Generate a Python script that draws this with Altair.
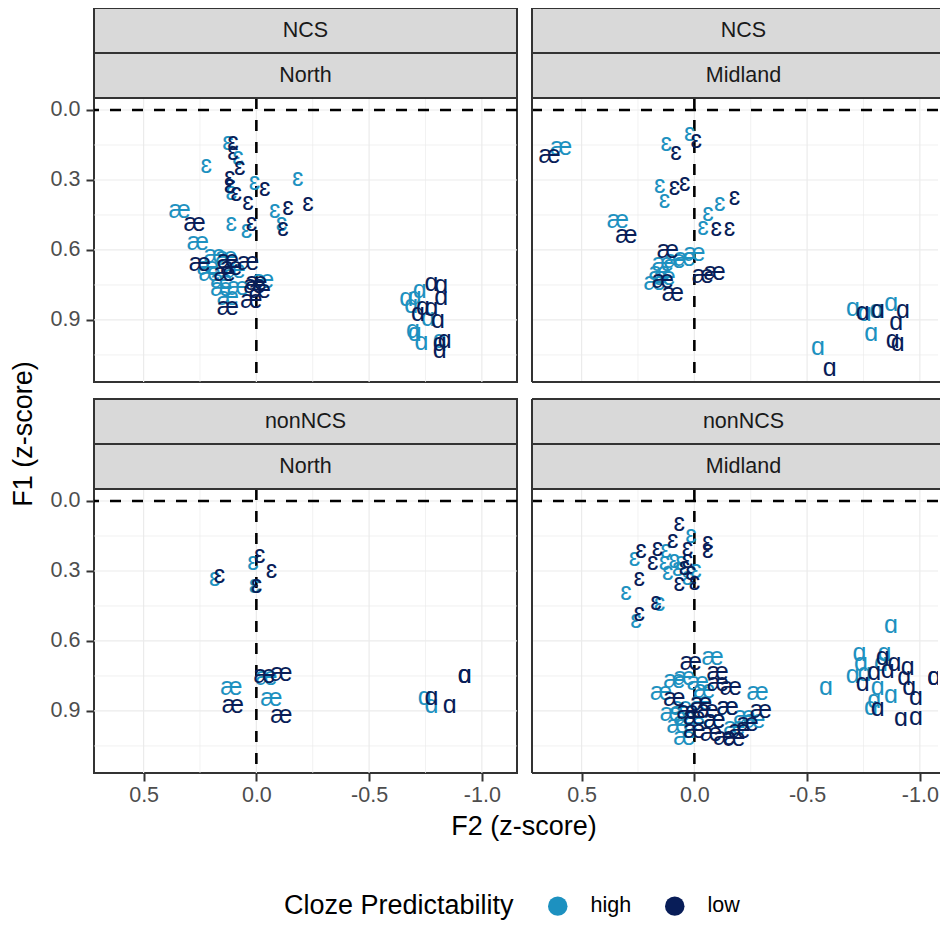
import altair as alt
import pandas as pd

FONT = "Liberation Sans"
HIGH_COLOR = "#1D91C0"
LOW_COLOR = "#081D58"
STRIP_FILL = "#D9D9D9"
BORDER = "#333333"

CLOZE_LEVELS = ["high", "low"]

X_MAJOR = [0.5, 0.0, -0.5, -1.0]
X_MINOR = [0.25, -0.25, -0.75]
Y_MAJOR = [0.0, 0.3, 0.6, 0.9]
Y_MINOR = [0.15, 0.45, 0.75, 1.05]
X_LEFT = 0.72
PX_PER_UNIT = 225.5
Y_DOMAIN = [-0.0514, 1.166]

# ---------------- NCS / North ----------------
NCS_NORTH_HIGH_VOWEL = ["ɛ"] * 11 + ["æ"] * 12 + ["ɑ"] * 9
NCS_NORTH_HIGH_F2 = [0.126, 0.082, 0.222, 0.008, -0.184, 0.118, 0.111, -0.081, 0.111, 0.044, -0.111,
                     0.340, 0.259, 0.185, 0.215, 0.207, 0.155, 0.155, 0.082, 0.126, -0.030, 0.096, 0.133,
                     -0.665, -0.702, -0.724, -0.687, -0.761, -0.694, -0.702, -0.732, -0.813]
NCS_NORTH_HIGH_F1 = [0.136, 0.200, 0.236, 0.307, 0.293, 0.321, 0.350, 0.429, 0.486, 0.514, 0.486,
                     0.429, 0.564, 0.621, 0.671, 0.700, 0.729, 0.764, 0.757, 0.800, 0.729, 0.686, 0.629,
                     0.807, 0.800, 0.771, 0.836, 0.893, 0.943, 0.957, 0.993, 0.986]
NCS_NORTH_LOW_VOWEL = ["ɛ"] * 12 + ["æ"] * 11 + ["ɑ"] * 10
NCS_NORTH_LOW_F2 = [0.104, 0.104, 0.074, 0.118, 0.118, 0.089, 0.037, -0.037, -0.140, -0.229, 0.022, -0.118,
                    0.274, 0.251, 0.126, 0.037, 0.111, 0.141, 0.008, -0.015, 0.022, 0.126, 0.000,
                    -0.776, -0.820, -0.820, -0.739, -0.717, -0.776, -0.805, -0.835, -0.813, -0.813]
NCS_NORTH_LOW_F1 = [0.136, 0.179, 0.243, 0.286, 0.321, 0.357, 0.393, 0.336, 0.414, 0.400, 0.486, 0.507,
                    0.486, 0.657, 0.643, 0.650, 0.671, 0.700, 0.750, 0.771, 0.814, 0.843, 0.736,
                    0.743, 0.750, 0.800, 0.843, 0.871, 0.850, 0.900, 0.986, 1.029, 1.000]

# ---------------- NCS / Midland ----------------
NCS_MID_HIGH_VOWEL = ["æ"] + ["ɛ"] * 7 + ["æ"] * 8 + ["ɑ"] * 6
NCS_MID_HIGH_F2 = [0.591, 0.125, 0.021, 0.154, 0.132, -0.112, -0.060, -0.038,
                   0.339, 0.000, 0.043, 0.088, 0.140, 0.154, 0.176, 0.132,
                   -0.703, -0.755, -0.806, -0.873, -0.784, -0.548]
NCS_MID_HIGH_F1 = [0.157, 0.143, 0.100, 0.321, 0.386, 0.400, 0.443, 0.500,
                   0.471, 0.614, 0.636, 0.643, 0.657, 0.693, 0.736, 0.714,
                   0.850, 0.871, 0.857, 0.829, 0.957, 1.014]
NCS_MID_LOW_VOWEL = ["æ"] + ["ɛ"] * 7 + ["æ"] * 6 + ["ɑ"] * 7
NCS_MID_LOW_F2 = [0.642, 0.081, -0.008, 0.088, 0.043, -0.178, -0.097, -0.156,
                  0.302, 0.118, 0.140, 0.095, -0.038, -0.090,
                  -0.747, -0.814, -0.925, -0.895, -0.880, -0.902, -0.600]
NCS_MID_LOW_F1 = [0.193, 0.179, 0.129, 0.329, 0.314, 0.371, 0.507, 0.507,
                  0.536, 0.600, 0.729, 0.786, 0.707, 0.693,
                  0.864, 0.857, 0.857, 0.907, 0.986, 1.000, 1.107]

# ---------------- nonNCS / North ----------------
NON_NORTH_HIGH_VOWEL = ["ɛ"] * 3 + ["æ"] * 3 + ["ɑ"] * 2
NON_NORTH_HIGH_F2 = [0.185, 0.015, 0.008, 0.111, -0.044, -0.067, -0.746, -0.776]
NON_NORTH_HIGH_F1 = [0.331, 0.260, 0.360, 0.796, 0.753, 0.846, 0.839, 0.874]
NON_NORTH_LOW_VOWEL = ["ɛ"] * 4 + ["æ"] * 4 + ["ɑ"] * 4
NON_NORTH_LOW_F2 = [0.163, -0.015, -0.067, 0.000, 0.104, -0.111, -0.037, -0.111,
                    -0.776, -0.857, -0.924, -0.924]
NON_NORTH_LOW_F1 = [0.317, 0.231, 0.296, 0.360, 0.874, 0.739, 0.746, 0.917,
                    0.839, 0.874, 0.746, 0.746]

# ---------------- nonNCS / Midland ----------------
NON_MID_HIGH_VOWEL = ["ɛ"] * 13 + ["æ"] * 19 + ["ɑ"] * 12
NON_MID_HIGH_F2 = [0.015, 0.266, 0.126, 0.133, 0.118, 0.089, 0.059, -0.007, 0.303, 0.155, 0.259, 0.074, 0.030,
                   -0.081, 0.044, 0.148, -0.281, 0.059, 0.044, 0.044, -0.044, -0.089, -0.266, -0.015, -0.148,
                   0.089, -0.177, 0.000, 0.104, -0.030, 0.074, -0.222,
                   -0.872, -0.732, -0.584, -0.702, -0.798, -0.872, -0.843, -0.828, -0.754, -0.813, -0.739, -0.783]
NON_MID_HIGH_F1 = [0.146, 0.246, 0.210, 0.260, 0.303, 0.253, 0.260, 0.296, 0.389, 0.439, 0.510, 0.289, 0.324,
                   0.667, 0.753, 0.817, 0.817, 0.882, 0.925, 1.010, 0.810, 0.939, 0.939, 0.774, 0.882,
                   0.767, 0.967, 0.953, 0.910, 0.860, 0.960, 0.920,
                   0.531, 0.653, 0.796, 0.746, 0.853, 0.831, 0.653, 0.696, 0.739, 0.796, 0.696, 0.882]
NON_MID_LOW_VOWEL = ["ɛ"] * 16 + ["æ"] * 18 + ["ɑ"] * 14
NON_MID_LOW_F2 = [0.067, 0.096, 0.163, 0.237, 0.030, -0.059, -0.059, 0.185, 0.030, 0.244, 0.067, 0.000,
                  0.170, 0.244, 0.044, 0.015,
                  0.015, -0.103, -0.162, 0.089, -0.030, -0.148, -0.295, 0.000, -0.089, -0.236, 0.000,
                  -0.074, -0.177, -0.133, -0.059, 0.030, -0.200, -0.104,
                  -0.835, -0.887, -0.946, -0.931, -1.064, -1.064, -0.746, -0.953, -0.983, -0.916,
                  -0.983, -0.813, -0.798, -0.857]
NON_MID_LOW_F1 = [0.096, 0.167, 0.203, 0.210, 0.203, 0.174, 0.210, 0.260, 0.253, 0.331, 0.353, 0.346,
                  0.431, 0.481, 0.281, 0.303,
                  0.689, 0.732, 0.796, 0.846, 0.867, 0.882, 0.896, 0.925, 0.939, 0.953, 0.982,
                  0.996, 1.017, 1.010, 0.896, 0.900, 0.980, 0.780,
                  0.667, 0.696, 0.710, 0.753, 0.753, 0.753, 0.782, 0.796, 0.839, 0.931,
                  0.924, 0.889, 0.732, 0.725]

LEFT_W = 423
RIGHT_W = 406
PLOT_H = 284
STRIP_H = 45
TEXT_SIZE = 25
LABEL_SIZE = 21.5
TITLE_SIZE = 27


def make_df(hv, hx, hy, lv, lx, ly):
    rows = []
    for v, a, b in zip(hv, hx, hy):
        rows.append({"vowel": v, "F2": a, "F1": b, "cloze": "high"})
    for v, a, b in zip(lv, lx, ly):
        rows.append({"vowel": v, "F2": a, "F1": b, "cloze": "low"})
    return pd.DataFrame(rows)


LEGEND = alt.Legend(
    title="Cloze Predictability", orient="none", legendX=190, legendY=797,
    direction="horizontal", titleOrient="left", titleFont=FONT, titleFontSize=TITLE_SIZE,
    titleFontWeight="normal", titleColor="black", titlePadding=33, titleBaseline="middle",
    titleLimit=500,
    labelFont=FONT, labelFontSize=LABEL_SIZE, labelColor="black", labelOffset=22,
    columnPadding=32, symbolType="circle", symbolSize=380, symbolStrokeWidth=0,
    symbolOpacity=1,
)


def x_axis(show):
    if not show:
        return None
    return alt.Axis(values=X_MAJOR, title=None, grid=False, domain=False, ticks=True,
                    tickSize=8, tickWidth=2, tickColor=BORDER, labelFont=FONT,
                    labelFontSize=LABEL_SIZE, labelColor="#4D4D4D", labelPadding=3,
                    labelExpr="datum.value < 0 ? '-' + format(-datum.value, '.1f') : format(datum.value, '.1f')")


def y_axis(show):
    if not show:
        return None
    return alt.Axis(values=Y_MAJOR, title=None, grid=False, domain=False, ticks=True,
                    tickSize=8, tickWidth=2, tickColor=BORDER, labelFont=FONT,
                    labelFontSize=LABEL_SIZE, labelColor="#4D4D4D", labelPadding=6,
                    format=".1f")


ONE_ROW = alt.Data(values=[{"k": 1}])


def hline(y, width):
    return alt.Chart(ONE_ROW).mark_rule(color=BORDER, strokeWidth=2).encode(
        x=alt.value(0), x2=alt.value(width + 4), y=alt.value(y))


def strip_layers(label, level, width, open_right):
    top = -(2 - level) * STRIP_H
    if open_right:
        rect = alt.Chart(ONE_ROW).mark_rect(fill=STRIP_FILL).encode(
            x=alt.value(0), x2=alt.value(width + 4), y=alt.value(top), y2=alt.value(top + STRIP_H))
    else:
        rect = alt.Chart(ONE_ROW).mark_rect(fill=STRIP_FILL, stroke=BORDER, strokeWidth=2).encode(
            x=alt.value(0), x2=alt.value(width), y=alt.value(top), y2=alt.value(top + STRIP_H))
    txt = alt.Chart(ONE_ROW).mark_text(font=FONT, fontSize=LABEL_SIZE, color="#1A1A1A", text=label).encode(
        x=alt.value(LEFT_W / 2), y=alt.value(top + STRIP_H / 2))
    return [rect, txt]


def panel(accent, region, df, show_x, show_y, width, open_right=False, extra=()):
    xs = alt.Scale(domain=[X_LEFT - width / PX_PER_UNIT, X_LEFT], reverse=True, nice=False, zero=False)
    ys = alt.Scale(domain=Y_DOMAIN, reverse=True, nice=False, zero=False)
    xa = x_axis(show_x)
    ya = y_axis(show_y)
    gx_minor = alt.Chart(pd.DataFrame({"v": X_MINOR})).mark_rule(color="#EBEBEB", strokeWidth=0.7).encode(
        x=alt.X("v:Q", scale=xs, axis=xa))
    gx_major = alt.Chart(pd.DataFrame({"v": X_MAJOR})).mark_rule(color="#EBEBEB", strokeWidth=1.2).encode(
        x=alt.X("v:Q", scale=xs, axis=xa))
    gy_minor = alt.Chart(pd.DataFrame({"v": Y_MINOR})).mark_rule(color="#EBEBEB", strokeWidth=0.7).encode(
        y=alt.Y("v:Q", scale=ys, axis=ya))
    gy_major = alt.Chart(pd.DataFrame({"v": Y_MAJOR})).mark_rule(color="#EBEBEB", strokeWidth=1.2).encode(
        y=alt.Y("v:Q", scale=ys, axis=ya))
    zx = alt.Chart(pd.DataFrame({"v": [0.0]})).mark_rule(color="black", strokeWidth=2.6,
                                                          strokeDash=[11, 11]).encode(
        x=alt.X("v:Q", scale=xs, axis=xa))
    zy = alt.Chart(pd.DataFrame({"v": [0.0]})).mark_rule(color="black", strokeWidth=2.6,
                                                          strokeDash=[11, 11]).encode(
        y=alt.Y("v:Q", scale=ys, axis=ya))
    pts = alt.Chart(df).mark_text(font=FONT, fontSize=TEXT_SIZE, clip=True).encode(
        x=alt.X("F2:Q", scale=xs, axis=xa),
        y=alt.Y("F1:Q", scale=ys, axis=ya),
        text=alt.Text("vowel:N"),
        color=alt.Color("cloze:N", scale=alt.Scale(domain=CLOZE_LEVELS, range=[HIGH_COLOR, LOW_COLOR]),
                        legend=LEGEND),
    )
    layers = [gx_minor, gx_major, gy_minor, gy_major, zx, zy, pts]
    layers += strip_layers(accent, 0, width, open_right) + strip_layers(region, 1, width, open_right)
    if open_right:
        # border on the left, top and bottom only: the right edge runs off the page
        layers += [hline(-2 * STRIP_H, width), hline(-STRIP_H, width), hline(0, width), hline(PLOT_H, width)]
        layers += [alt.Chart(ONE_ROW).mark_rule(color=BORDER, strokeWidth=2).encode(
            x=alt.value(0), y=alt.value(-2 * STRIP_H), y2=alt.value(PLOT_H))]
        view = alt.ViewBackground(fill="white", strokeWidth=0)
    else:
        view = alt.ViewBackground(fill="white", stroke=BORDER, strokeWidth=2)
    layers += list(extra)
    return alt.layer(*layers).properties(width=width, height=PLOT_H, view=view)


df_nn = make_df(NCS_NORTH_HIGH_VOWEL, NCS_NORTH_HIGH_F2, NCS_NORTH_HIGH_F1,
                NCS_NORTH_LOW_VOWEL, NCS_NORTH_LOW_F2, NCS_NORTH_LOW_F1)
df_nm = make_df(NCS_MID_HIGH_VOWEL, NCS_MID_HIGH_F2, NCS_MID_HIGH_F1,
                NCS_MID_LOW_VOWEL, NCS_MID_LOW_F2, NCS_MID_LOW_F1)
df_on = make_df(NON_NORTH_HIGH_VOWEL, NON_NORTH_HIGH_F2, NON_NORTH_HIGH_F1,
                NON_NORTH_LOW_VOWEL, NON_NORTH_LOW_F2, NON_NORTH_LOW_F1)
df_om = make_df(NON_MID_HIGH_VOWEL, NON_MID_HIGH_F2, NON_MID_HIGH_F1,
                NON_MID_LOW_VOWEL, NON_MID_LOW_F2, NON_MID_LOW_F1)

ytitle = alt.Chart(ONE_ROW).mark_text(
    font=FONT, fontSize=TITLE_SIZE, color="black", angle=270, align="center", baseline="alphabetic",
    text="F1 (z-score)"
).encode(x=alt.value(-62), y=alt.value(336))

xtitle = alt.Chart(ONE_ROW).mark_text(
    font=FONT, fontSize=TITLE_SIZE, color="black", align="center", baseline="alphabetic",
    text="F2 (z-score)"
).encode(x=alt.value(430), y=alt.value(346))

chart = alt.concat(
    panel("NCS", "North", df_nn, False, True, LEFT_W, extra=[ytitle]),
    panel("NCS", "Midland", df_nm, False, False, RIGHT_W, open_right=True),
    panel("nonNCS", "North", df_on, True, True, LEFT_W, extra=[xtitle]),
    panel("nonNCS", "Midland", df_om, True, False, RIGHT_W, open_right=True),
    columns=2, spacing={"row": 107, "column": 15}, bounds="flush",
).properties(
    padding={"left": 1, "top": -2, "right": -3, "bottom": 1},
    background="white",
).configure_view(stroke=None)

chart.save("out.html", embed_options={"renderer": "svg", "actions": False})
